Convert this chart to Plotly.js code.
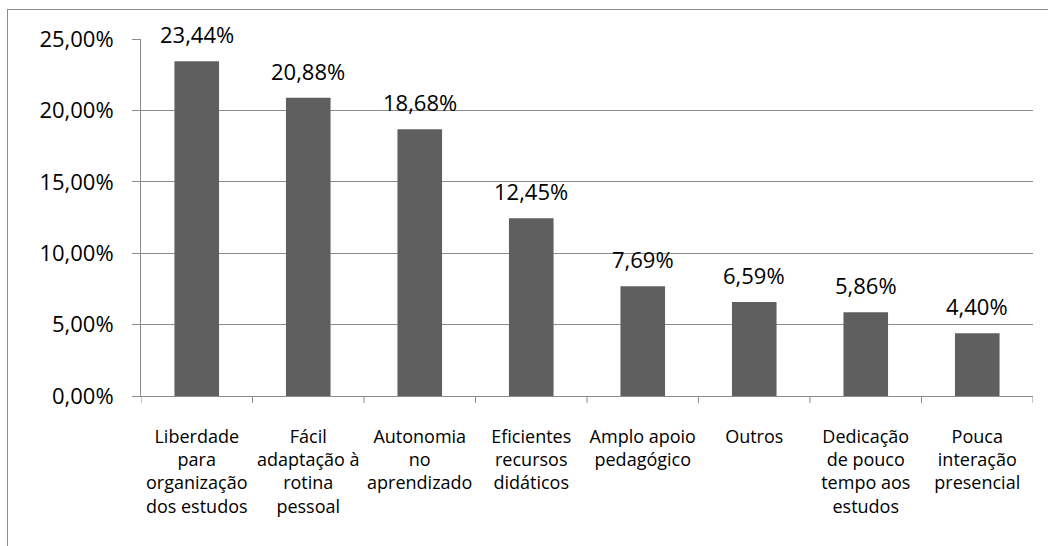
<!DOCTYPE html>
<html><head><meta charset="utf-8">
<script src="https://cdn.plot.ly/plotly-3.0.1.min.js"></script>
<style>
html,body{margin:0;padding:0;background:#fff;overflow:hidden}
#wrap{position:relative;width:1048px;height:546px}
#chart{position:absolute;left:0;top:0;width:1048px;height:546px}
#frame{position:absolute;left:7px;top:9px;width:1100px;height:600px;border:1px solid #8c8c8c;pointer-events:none}
</style></head>
<body>
<div id="wrap"><div id="chart"></div><div id="frame"></div></div>
<script>
const categories = [
  "Liberdade<br>para<br>organização<br>dos estudos",
  "Fácil<br>adaptação à<br>rotina<br>pessoal",
  "Autonomia<br>no<br>aprendizado",
  "Eficientes<br>recursos<br>didáticos",
  "Amplo apoio<br>pedagógico",
  "Outros",
  "Dedicação<br>de pouco<br>tempo aos<br>estudos",
  "Pouca<br>interação<br>presencial"
];
const values = [23.44, 20.88, 18.68, 12.45, 7.69, 6.59, 5.86, 4.40];
const valueLabels = ["23,44%", "20,88%", "18,68%", "12,45%", "7,69%", "6,59%", "5,86%", "4,40%"];

const font = "Open Sans, sans-serif";
const idx = categories.map((c, i) => i);

const trace = {
  type: "bar",
  x: idx,
  y: values,
  width: 0.4,
  marker: {color: "#5f5f5f", line: {width: 0}},
  hoverinfo: "none"
};

const annotations = values.map((v, i) => ({
  x: i, y: v, xref: "x", yref: "y",
  text: valueLabels[i], showarrow: false,
  yanchor: "bottom", yshift: 10,
  font: {family: font, size: 22, color: "#000"}
}));

const layout = {
  width: 1048, height: 546,
  margin: {l: 141, r: 15, t: 39, b: 150},
  paper_bgcolor: "rgba(0,0,0,0)", plot_bgcolor: "#fff",
  showlegend: false,
  separators: ",.",
  xaxis: {
    range: [-0.5, 7.5],
    tickmode: "array", tickvals: idx, ticktext: categories,
    showgrid: false, zeroline: false,
    showline: true, linecolor: "#8c8c8c", linewidth: 1,
    ticks: "", tickangle: 0, ticklabelstandoff: 24,
    tickfont: {family: font, size: 18, color: "#000"},
    fixedrange: true
  },
  yaxis: {
    range: [0, 25], dtick: 5, tickformat: ".2f", ticksuffix: "%",
    showgrid: true, gridcolor: "#8c8c8c", gridwidth: 1,
    zeroline: false, showline: true, linecolor: "#8c8c8c", linewidth: 1,
    ticks: "outside", ticklen: 8, tickcolor: "#8c8c8c",
    ticklabelstandoff: 14,
    tickfont: {family: font, size: 22, color: "#000"},
    fixedrange: true
  },
  shapes: idx.concat([8]).map(i => ({
    type: "line", xref: "x", yref: "paper",
    x0: i - 0.5, x1: i - 0.5, y0: 0, y1: -0.02,
    line: {color: "#8c8c8c", width: 1}
  })),
  annotations: annotations
};

Plotly.newPlot("chart", [trace], layout, {displayModeBar: false, staticPlot: true});
</script>
</body></html>
